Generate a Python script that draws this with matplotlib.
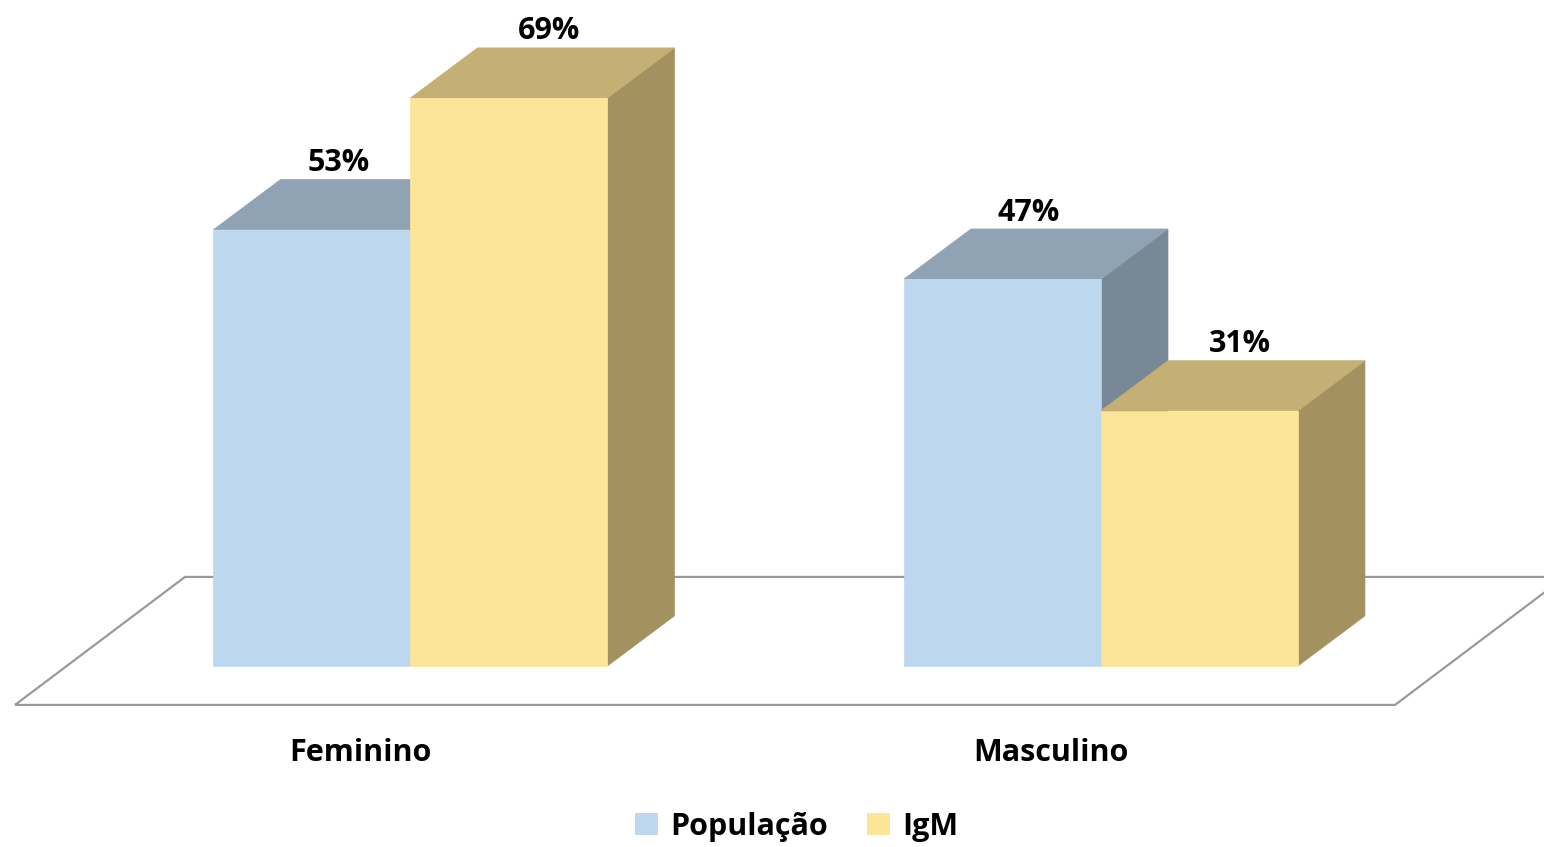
import matplotlib.pyplot as plt
from matplotlib.patches import Polygon, Patch

categories = ["Feminino", "Masculino"]
series = ["População", "IgM"]
populacao = [53, 47]
igm = [69, 31]

front_colors = ["#BDD7EE", "#FDE598"]
top_colors = ["#8FA3B4", "#C4AF74"]
side_colors = ["#788896", "#A39260"]

plt.rcParams["font.family"] = ["Open Sans", "DejaVu Sans"]

fig = plt.figure(figsize=(15.44, 8.47), dpi=100)
ax = fig.add_axes([0, 0, 1, 1])
ax.set_xlim(-0.5945, 1.6416)
ax.set_ylim(-22.0, 80.9)
ax.axis("off")

w = 0.2853       # bar width in category units
ddx, ddy = 0.097, 6.08  # bar depth offset
fdx = 0.2462     # floor depth offset (x)
f_front, f_back = -4.74, 10.81

# floor
fx0, fx1 = -0.5728, 1.4258
floor = Polygon([(fx0, f_front), (fx1, f_front), (fx1 + fdx, f_back), (fx0 + fdx, f_back)],
                closed=True, fill=False, edgecolor="#9A9A9A", lw=1.6, zorder=1)
ax.add_patch(floor)


def bar3d(x0, h, i):
    front = [(x0, 0), (x0 + w, 0), (x0 + w, h), (x0, h)]
    top = [(x0, h), (x0 + w, h), (x0 + w + ddx, h + ddy), (x0 + ddx, h + ddy)]
    side = [(x0 + w, 0), (x0 + w + ddx, ddy), (x0 + w + ddx, h + ddy), (x0 + w, h)]
    for pts, c in [(side, side_colors[i]), (top, top_colors[i]), (front, front_colors[i])]:
        ax.add_patch(Polygon(pts, closed=True, facecolor=c, edgecolor=c, lw=0.5, zorder=2))


nudge = [-0.01, 0.01]
for k, cat in enumerate(categories):
    for i, vals in enumerate([populacao, igm]):
        x0 = k - w + i * w
        bar3d(x0, vals[k], i)
        ax.text(x0 + w / 2 + ddx / 2 + nudge[i], vals[k] + ddy + 2.0, f"{vals[k]}%",
                ha="center", va="center", fontsize=22, fontweight="bold", zorder=5)
    ax.text(k - 0.073, -10.57, cat, ha="center", va="center",
            fontsize=22, fontweight="bold")

handles = [Patch(facecolor=front_colors[i], edgecolor="none") for i in range(2)]
fig.legend(handles, series, loc="center", bbox_to_anchor=(0.516, 0.024), ncol=2,
           frameon=False, prop={"size": 22, "weight": "bold"},
           handlelength=0.75, handleheight=0.75, handletextpad=0.4, columnspacing=1.3)

fig.savefig("out.png", dpi=100)
